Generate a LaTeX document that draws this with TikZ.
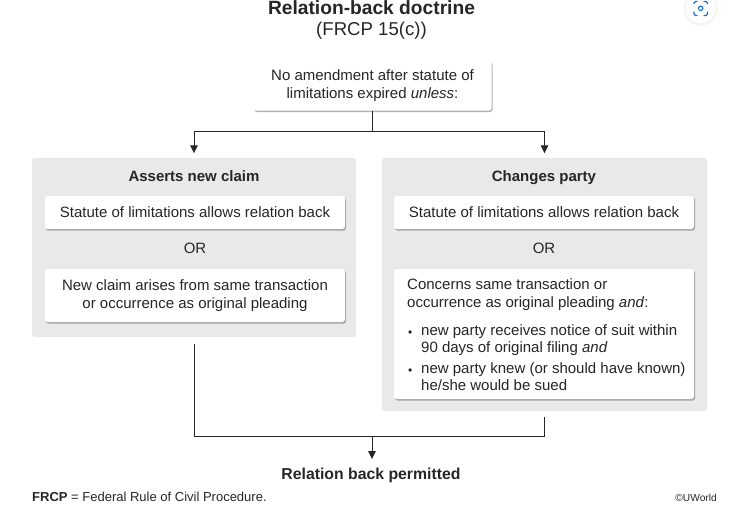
\documentclass[tikz,border=0pt]{standalone}
\usepackage{fontspec}
\setmainfont{Liberation Sans}
\usetikzlibrary{shadows,arrows.meta}
\definecolor{ink}{HTML}{262626}
\definecolor{panelgray}{HTML}{E9E9E9}
\definecolor{iconblue}{HTML}{1A73C8}
\tikzset{
  x=1pt,y=-1pt,
  whitebox/.style={draw=none,fill=white,rounded corners=2.5pt,inner sep=0pt,
    drop shadow={shadow xshift=1pt,shadow yshift=-1.5pt,fill=black,opacity=.3},text=ink,align=center,font=\fontsize{15}{18}\selectfont},
  panel/.style={fill=panelgray,draw=none,rounded corners=2.5pt,inner sep=0pt},
  lbl/.style={text=ink,inner sep=0pt,align=center,font=\fontsize{15}{18}\selectfont},
  headlbl/.style={text=ink,inner sep=0pt,anchor=base,font=\fontsize{15}{18}\selectfont\bfseries},
  leftlbl/.style={text=ink,inner sep=0pt,align=left,anchor=north west,font=\fontsize{15}{17}\selectfont},
  bulletlbl/.style={text=ink,inner sep=0pt,anchor=base west,font=\fontsize{12}{14}\selectfont},
  conn/.style={draw=ink,line width=1pt},
  arrowconn/.style={conn,-{Triangle[length=8pt,width=7.5pt]}},
}
\begin{document}
\begin{tikzpicture}
\useasboundingbox (0,0) rectangle (736,514);
% search icon
\foreach \r/\o in {18/.012,17/.014,16/.016,15.5/.02}{\fill[black,opacity=\o] (700.5,9) circle (\r);}
\fill[white] (700.5,8.5) circle (15);
\draw[iconblue,line width=1.1pt,line cap=round,rounded corners=1.5pt]
  (694,3.5) -- (694,1.5) -- (697,1.5)
  (704,1.5) -- (707.5,1.5) -- (707.5,3.5)
  (707.5,12) -- (707.5,15.5) -- (704,15.5)
  (697,15.5) -- (694,15.5) -- (694,12);
\draw[iconblue,line width=1.1pt] (700.7,8.3) circle (2.2);
% titles
\node[lbl,font=\fontsize{19.2}{22}\selectfont\bfseries] (title) at (371.5,8) {Relation-back doctrine};
\node[lbl,font=\fontsize{18.6}{22}\selectfont] (subtitle) at (371.5,30.5) {(FRCP 15(c))};
% top box
\node[whitebox,minimum width=238,minimum height=49.5] (top) at (372.5,85.75) {No amendment after statute of\\limitations expired \textit{unless}:};
% panels
\node[panel,minimum width=324,minimum height=179] (lp) at (194,247.5) {};
\node[panel,minimum width=325,minimum height=253] (rp) at (544.5,284.5) {};
\node[headlbl] (lh) at (194,181.5) {Asserts new claim};
\node[headlbl] (rh) at (544,181.5) {Changes party};
\node[whitebox,minimum width=300,minimum height=33] (l1) at (195,212.5) {Statute of limitations allows relation back};
\node[lbl] (lor) at (195,248.5) {OR};
\node[whitebox,minimum width=300,minimum height=53] (l2) at (195,295.5) {New claim arises from same transaction\\or occurrence as original pleading};
\node[whitebox,minimum width=300,minimum height=33] (r1) at (544,212.5) {Statute of limitations allows relation back};
\node[lbl] (ror) at (544,248.5) {OR};
\node[whitebox,minimum width=300,minimum height=130] (r2) at (544,334) {};
\node[leftlbl,font=\fontsize{15}{18}\selectfont] (r2a) at (407,278.5) {Concerns same transaction or\\occurrence as original pleading \textit{and}:};
\node[bulletlbl] (b1) at (408,336) {•};
\node[leftlbl] (r2b) at (421,324.5) {new party receives notice of suit within\\90 days of original filing \textit{and}};
\node[bulletlbl] (b2) at (408,374) {•};
\node[leftlbl] (r2c) at (421,362.5) {new party knew (or should have known)\\he/she would be sued};
% result and notes
\node[lbl,font=\fontsize{15.8}{18}\selectfont\bfseries] (res) at (371,475.5) {Relation back permitted};
\node[text=ink,inner sep=0pt,anchor=west,font=\fontsize{13}{15}\selectfont] (note) at (32,497) {\textbf{FRCP} = Federal Rule of Civil Procedure.};
\node[text=ink,inner sep=0pt,anchor=east,font=\fontsize{10.2}{12}\selectfont] (copy) at (717,497.5) {©UWorld};
% connectors
\coordinate (j1) at (372.5,131);
\coordinate (j2) at (372,436);
\draw[conn] (top.south) -- (j1);
\draw[arrowconn,shorten >=4.5pt] (j1) -| (lp.north);
\draw[arrowconn,shorten >=4.5pt] (j1) -| (rp.north);
\draw[conn,shorten <=7pt] (lp.south) |- (j2);
\draw[conn,shorten <=6pt] (rp.south) |- (j2);
\draw[arrowconn] (j2) -- ++(0,23) coordinate (j3);
\end{tikzpicture}
\end{document}
